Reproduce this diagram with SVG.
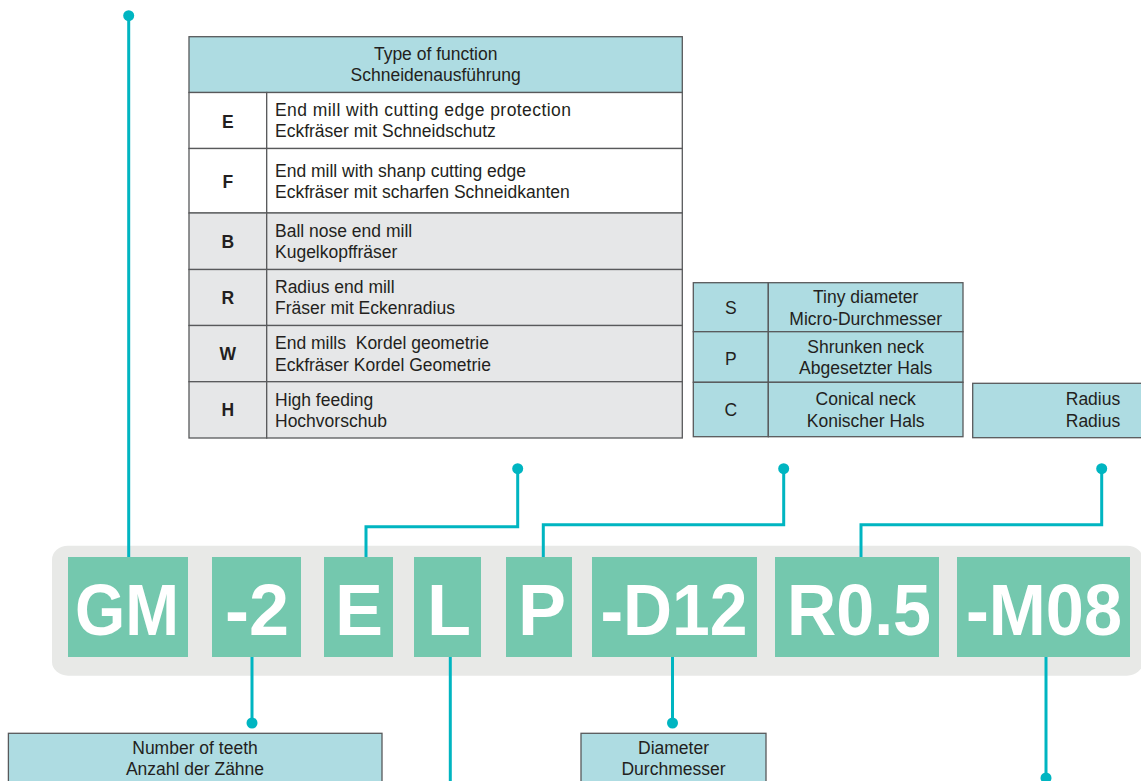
<svg xmlns="http://www.w3.org/2000/svg" width="1141" height="781" viewBox="0 0 1141 781">
<style>
.t{font-family:"Liberation Sans",Arial,sans-serif;font-size:17.5px;fill:#231F20}
.c{text-anchor:middle}
.b{font-weight:bold}
.big{font-family:"Liberation Sans",Arial,sans-serif;font-size:72px;font-weight:bold;fill:#FFFFFF;text-anchor:middle}
.cy{fill:#AEDCE2;stroke:#58595B;stroke-width:1.3}
.wh{fill:#FFFFFF;stroke:#58595B;stroke-width:1.3}
.gr{fill:#E6E7E8;stroke:#58595B;stroke-width:1.3}
.gb{fill:#74C8AE}
.ln{fill:none;stroke:#00B5C1;stroke-width:3}
.dot{fill:#00B5C1}
</style>
<rect width="1141" height="781" fill="#FFFFFF"/>

<g id="code-bar">
<rect x="52" y="545.7" width="1091" height="130" rx="16" ry="14" fill="#E8E9E7"/>
</g>

<g id="connectors">
<path class="ln" d="M128.7,15.7 V557"/>
<circle class="dot" cx="128.7" cy="15.7" r="5.5"/>
<path class="ln" d="M252,657 V723"/>
<circle class="dot" cx="252" cy="723" r="5.5"/>
<path class="ln" d="M517.7,468.7 V526.7 H366 V557"/>
<circle class="dot" cx="517.7" cy="468.7" r="5.5"/>
<path class="ln" d="M450.3,657 V781"/>
<path class="ln" d="M783.7,468.7 V524.7 H543.3 V557"/>
<circle class="dot" cx="783.7" cy="468.7" r="5.5"/>
<path class="ln" d="M672.5,657 V723"/>
<circle class="dot" cx="672.5" cy="723" r="5.5"/>
<path class="ln" d="M1101.7,468.7 V524.7 H861 V557"/>
<circle class="dot" cx="1101.7" cy="468.7" r="5.5"/>
<path class="ln" d="M1046,657 V778"/>
<circle class="dot" cx="1046" cy="778" r="5.5"/>
</g>

<g id="seg-GM"><rect class="gb" x="68" y="557" width="120" height="100"/><text class="big" x="127" y="635" textLength="104" lengthAdjust="spacingAndGlyphs">GM</text></g>
<g id="seg-2"><rect class="gb" x="212" y="557" width="89" height="100"/><text class="big" x="257" y="635">-2</text></g>
<g id="seg-E"><rect class="gb" x="324" y="557" width="69" height="100"/><text class="big" x="359" y="635">E</text></g>
<g id="seg-L"><rect class="gb" x="414" y="557" width="67" height="100"/><text class="big" x="449" y="635">L</text></g>
<g id="seg-P"><rect class="gb" x="506" y="557" width="66" height="100"/><text class="big" x="542" y="635">P</text></g>
<g id="seg-D12"><rect class="gb" x="592" y="557" width="165" height="100"/><text class="big" x="674" y="635" textLength="147" lengthAdjust="spacingAndGlyphs">-D12</text></g>
<g id="seg-R05"><rect class="gb" x="775" y="557" width="164" height="100"/><text class="big" x="859" y="635" textLength="144" lengthAdjust="spacingAndGlyphs">R0.5</text></g>
<g id="seg-M08"><rect class="gb" x="957" y="557" width="173" height="100"/><text class="big" x="1044" y="635" textLength="156" lengthAdjust="spacingAndGlyphs">-M08</text></g>

<g id="function-table">
<rect class="cy" x="189" y="36.7" width="493.3" height="55.8"/>
<text class="t c" x="435.7" y="60">Type of function</text>
<text class="t c" x="435.7" y="81">Schneidenausführung</text>
<rect class="wh" x="189" y="92.5" width="77.7" height="56"/><rect class="wh" x="266.7" y="92.5" width="415.6" height="56"/>
<rect class="wh" x="189" y="148.5" width="77.7" height="64.5"/><rect class="wh" x="266.7" y="148.5" width="415.6" height="64.5"/>
<rect class="gr" x="189" y="213" width="77.7" height="56.5"/><rect class="gr" x="266.7" y="213" width="415.6" height="56.5"/>
<rect class="gr" x="189" y="269.5" width="77.7" height="56"/><rect class="gr" x="266.7" y="269.5" width="415.6" height="56"/>
<rect class="gr" x="189" y="325.5" width="77.7" height="56.2"/><rect class="gr" x="266.7" y="325.5" width="415.6" height="56.2"/>
<rect class="gr" x="189" y="381.7" width="77.7" height="56.3"/><rect class="gr" x="266.7" y="381.7" width="415.6" height="56.3"/>
<text class="t c b" x="227.8" y="128">E</text>
<text class="t" x="275" y="116" textLength="296" lengthAdjust="spacing">End mill with cutting edge protection</text>
<text class="t" x="275" y="137.3">Eckfräser mit Schneidschutz</text>
<text class="t c b" x="227.8" y="188">F</text>
<text class="t" x="275" y="177">End mill with shanp cutting edge</text>
<text class="t" x="275" y="198">Eckfräser mit scharfen Schneidkanten</text>
<text class="t c b" x="227.8" y="248">B</text>
<text class="t" x="275" y="237">Ball nose end mill</text>
<text class="t" x="275" y="258">Kugelkopffräser</text>
<text class="t c b" x="227.8" y="304">R</text>
<text class="t" x="275" y="293">Radius end mill</text>
<text class="t" x="275" y="314">Fräser mit Eckenradius</text>
<text class="t c b" x="227.8" y="360">W</text>
<text class="t" x="275" y="349" xml:space="preserve">End mills  Kordel geometrie</text>
<text class="t" x="275" y="371">Eckfräser Kordel Geometrie</text>
<text class="t c b" x="227.8" y="416">H</text>
<text class="t" x="275" y="405.5">High feeding</text>
<text class="t" x="275" y="427">Hochvorschub</text>
</g>

<g id="neck-table">
<rect class="cy" x="693.3" y="282.7" width="75" height="49"/><rect class="cy" x="768.3" y="282.7" width="194.7" height="49"/>
<rect class="cy" x="693.3" y="331.7" width="75" height="50.6"/><rect class="cy" x="768.3" y="331.7" width="194.7" height="50.6"/>
<rect class="cy" x="693.3" y="382.3" width="75" height="54.4"/><rect class="cy" x="768.3" y="382.3" width="194.7" height="54.4"/>
<text class="t c" x="730.8" y="314">S</text>
<text class="t c" x="865.7" y="302.7">Tiny diameter</text>
<text class="t c" x="865.7" y="325">Micro-Durchmesser</text>
<text class="t c" x="730.8" y="364.5">P</text>
<text class="t c" x="865.7" y="353.3">Shrunken neck</text>
<text class="t c" x="865.7" y="374.3">Abgesetzter Hals</text>
<text class="t c" x="730.8" y="416">C</text>
<text class="t c" x="865.7" y="405">Conical neck</text>
<text class="t c" x="865.7" y="426.7">Konischer Hals</text>
</g>

<g id="radius-box">
<rect class="cy" x="972.7" y="383.3" width="241" height="54.4"/>
<text class="t c" x="1093" y="405.3">Radius</text>
<text class="t c" x="1093" y="427">Radius</text>
</g>

<g id="teeth-box">
<rect class="cy" x="8.4" y="733.3" width="373.6" height="60"/>
<text class="t c" x="195" y="754.3">Number of teeth</text>
<text class="t c" x="195" y="775.3">Anzahl der Zähne</text>
</g>

<g id="diameter-box">
<rect class="cy" x="581" y="733.3" width="185" height="60"/>
<text class="t c" x="673.5" y="754.3">Diameter</text>
<text class="t c" x="673.5" y="775.3">Durchmesser</text>
</g>
</svg>
